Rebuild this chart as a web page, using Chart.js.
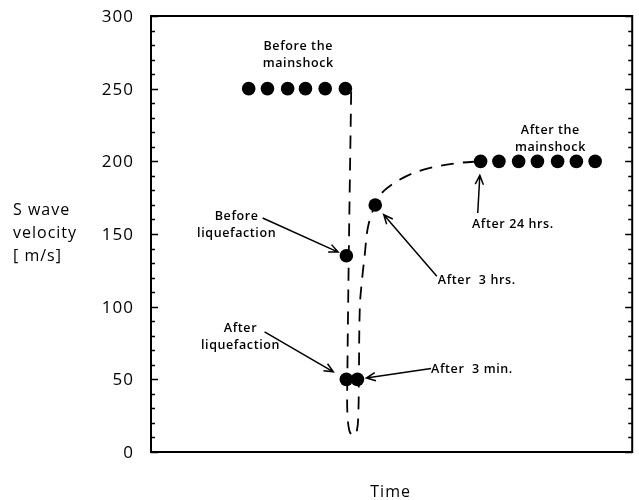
<!DOCTYPE html>
<html>
<head>
<meta charset="utf-8">
<script src="https://cdn.jsdelivr.net/npm/chart.js@4.4.1/dist/chart.umd.min.js"></script>
<style>
  html, body { margin: 0; padding: 0; background: #fff; }
  #wrap { width: 639px; height: 500px; }
</style>
</head>
<body>
<div id="wrap"><canvas id="c" width="639" height="500"></canvas></div>
<script>
// S-wave velocity readings (m/s) on an arbitrary time axis (0-100)
const yTicks = [0, 50, 100, 150, 200, 250, 300];
const yMinorStep = 10;

const beforeMainshockX = [20.3, 24.2, 28.4, 32.1, 36.2, 40.4];
const beforeMainshockY = [250, 250, 250, 250, 250, 250];

const beforeLiqX = [40.6];
const beforeLiqY = [135];

const afterLiqX = [40.6];
const afterLiqY = [50];

const after3minX = [42.9];
const after3minY = [50];

const after3hrsX = [46.6];
const after3hrsY = [170];

const afterMainshockX = [68.5, 72.3, 76.4, 80.3, 84.5, 88.4, 92.3];
const afterMainshockY = [200, 200, 200, 200, 200, 200, 200];

// dashed trend: drop at the mainshock, then recovery
const trendX = [41.6, 41.1, 40.8, 40.8, 41.2, 42.0, 42.8, 43.1, 43.2, 43.4, 43.9, 44.4, 45.1, 46.6, 48.5, 53.2, 58.7, 64.3, 68.5];
const trendY = [248, 135, 50, 28, 15, 11, 15, 28, 50, 100, 120, 135, 155, 170, 180, 190, 196, 199, 200];

const toPts = (xs, ys) => xs.map((v, i) => ({ x: v, y: ys[i] }));

const dotStyle = {
  type: 'scatter', showLine: false, pointRadius: 6.8, pointHoverRadius: 6.8,
  backgroundColor: '#000', borderColor: '#000', borderWidth: 0, order: 1
};

const datasets = [
  { ...dotStyle, label: 'Before the mainshock', data: toPts(beforeMainshockX, beforeMainshockY) },
  { ...dotStyle, label: 'Before liquefaction', data: toPts(beforeLiqX, beforeLiqY) },
  { ...dotStyle, label: 'After liquefaction', data: toPts(afterLiqX, afterLiqY) },
  { ...dotStyle, label: 'After 3 min.', data: toPts(after3minX, after3minY) },
  { ...dotStyle, label: 'After 3 hrs.', data: toPts(after3hrsX, after3hrsY) },
  { ...dotStyle, label: 'After the mainshock', data: toPts(afterMainshockX, afterMainshockY) },
  {
    type: 'line', label: 'trend', data: toPts(trendX, trendY),
    borderColor: '#000', borderWidth: 1.8, borderDash: [13, 9],
    pointRadius: 0, tension: 0.35, fill: false, order: 10
  }
];

// text notes; arrows point at a dot (dataset index, point index)
const notes = [
  { lines: ['Before the', 'mainshock'], x: 30.6, y: 279, align: 'center' },
  { lines: ['After the', 'mainshock'], x: 83.0, y: 221, align: 'center' },
  { lines: ['Before', 'liquefaction'], x: 17.8, y: 162.4, align: 'center',
    tail: [23.2, 161], target: [1, 0], gap: 9 },
  { lines: ['After', 'liquefaction'], x: 18.6, y: 85.3, align: 'center',
    tail: [23.6, 82.6], target: [2, 0], gap: 15 },
  { lines: ['After  3 min.'], x: 58.2, y: 57, align: 'left',
    tail: [58.2, 57.5], target: [3, 0], gap: 9 },
  { lines: ['After  3 hrs.'], x: 59.6, y: 118.3, align: 'left',
    tail: [59.4, 121], target: [4, 0], gap: 13 },
  { lines: ['After 24 hrs.'], x: 66.7, y: 156.9, align: 'left',
    tail: [67.9, 164.5], target: [5, 0], gap: 14 }
];

function drawArrow(ctx, x1, y1, x2, y2) {
  const ang = Math.atan2(y2 - y1, x2 - x1);
  const len = 10, spread = 0.42;
  ctx.beginPath();
  ctx.moveTo(x1, y1);
  ctx.lineTo(x2, y2);
  ctx.moveTo(x2 - len * Math.cos(ang - spread), y2 - len * Math.sin(ang - spread));
  ctx.lineTo(x2, y2);
  ctx.lineTo(x2 - len * Math.cos(ang + spread), y2 - len * Math.sin(ang + spread));
  ctx.stroke();
}

const framePlugin = {
  id: 'frame',
  afterDraw(chart) {
    const { ctx, chartArea: a, scales: { x, y } } = chart;
    ctx.save();
    ctx.strokeStyle = '#000';
    ctx.fillStyle = '#000';

    // box
    ctx.lineWidth = 2;
    ctx.strokeRect(a.left, a.top, a.right - a.left, a.bottom - a.top);

    // inward ticks on left and right
    ctx.lineWidth = 1.5;
    for (let v = yTicks[0]; v <= yTicks[yTicks.length - 1]; v += yMinorStep) {
      const py = Math.round(y.getPixelForValue(v)) + 0.5;
      const major = yTicks.includes(v);
      const L = major ? 7 : 4;
      ctx.beginPath();
      ctx.moveTo(a.left, py); ctx.lineTo(a.left + L, py);
      ctx.moveTo(a.right, py); ctx.lineTo(a.right - L, py);
      ctx.stroke();
    }

    // tick labels
    ctx.font = '400 17px "Open Sans"';
    ctx.letterSpacing = '1px';
    ctx.textAlign = 'right';
    ctx.textBaseline = 'middle';
    yTicks.forEach(v => ctx.fillText(String(v), a.left - 17, y.getPixelForValue(v) + 1));

    // axis titles
    ctx.font = '400 16px "Open Sans"';
    ctx.textAlign = 'left';
    ['S wave', 'velocity', '[ m/s]'].forEach((t, i) => ctx.fillText(t, 13, 210 + i * 23));
    ctx.textAlign = 'center';
    ctx.fillText('Time', (a.left + a.right) / 2 - 1, 492);

    // notes and arrows
    ctx.font = '600 12.5px "Open Sans"';
    ctx.letterSpacing = '0.6px';
    ctx.lineWidth = 1.5;
    notes.forEach(n => {
      ctx.textAlign = n.align;
      const px = x.getPixelForValue(n.x);
      const py = y.getPixelForValue(n.y);
      n.lines.forEach((t, i) => ctx.fillText(t, px, py + i * 17));
      if (n.tail) {
        const pt = chart.getDatasetMeta(n.target[0]).data[n.target[1]];
        const tx = x.getPixelForValue(n.tail[0]);
        const ty = y.getPixelForValue(n.tail[1]);
        const d = Math.hypot(pt.x - tx, pt.y - ty);
        const hx = pt.x - (pt.x - tx) * n.gap / d;
        const hy = pt.y - (pt.y - ty) * n.gap / d;
        drawArrow(ctx, tx, ty, hx, hy);
      }
    });
    ctx.restore();
  }
};

new Chart(document.getElementById('c'), {
  type: 'scatter',
  data: { datasets },
  options: {
    responsive: false,
    animation: false,
    devicePixelRatio: 1,
    layout: { padding: { left: 151, top: 16, right: 5, bottom: 48 } },
    plugins: { legend: { display: false }, tooltip: { enabled: false } },
    scales: {
      x: { type: 'linear', min: 0, max: 100, display: false },
      y: { type: 'linear', min: 0, max: 300, display: false }
    }
  },
  plugins: [framePlugin]
});
</script>
</body>
</html>
